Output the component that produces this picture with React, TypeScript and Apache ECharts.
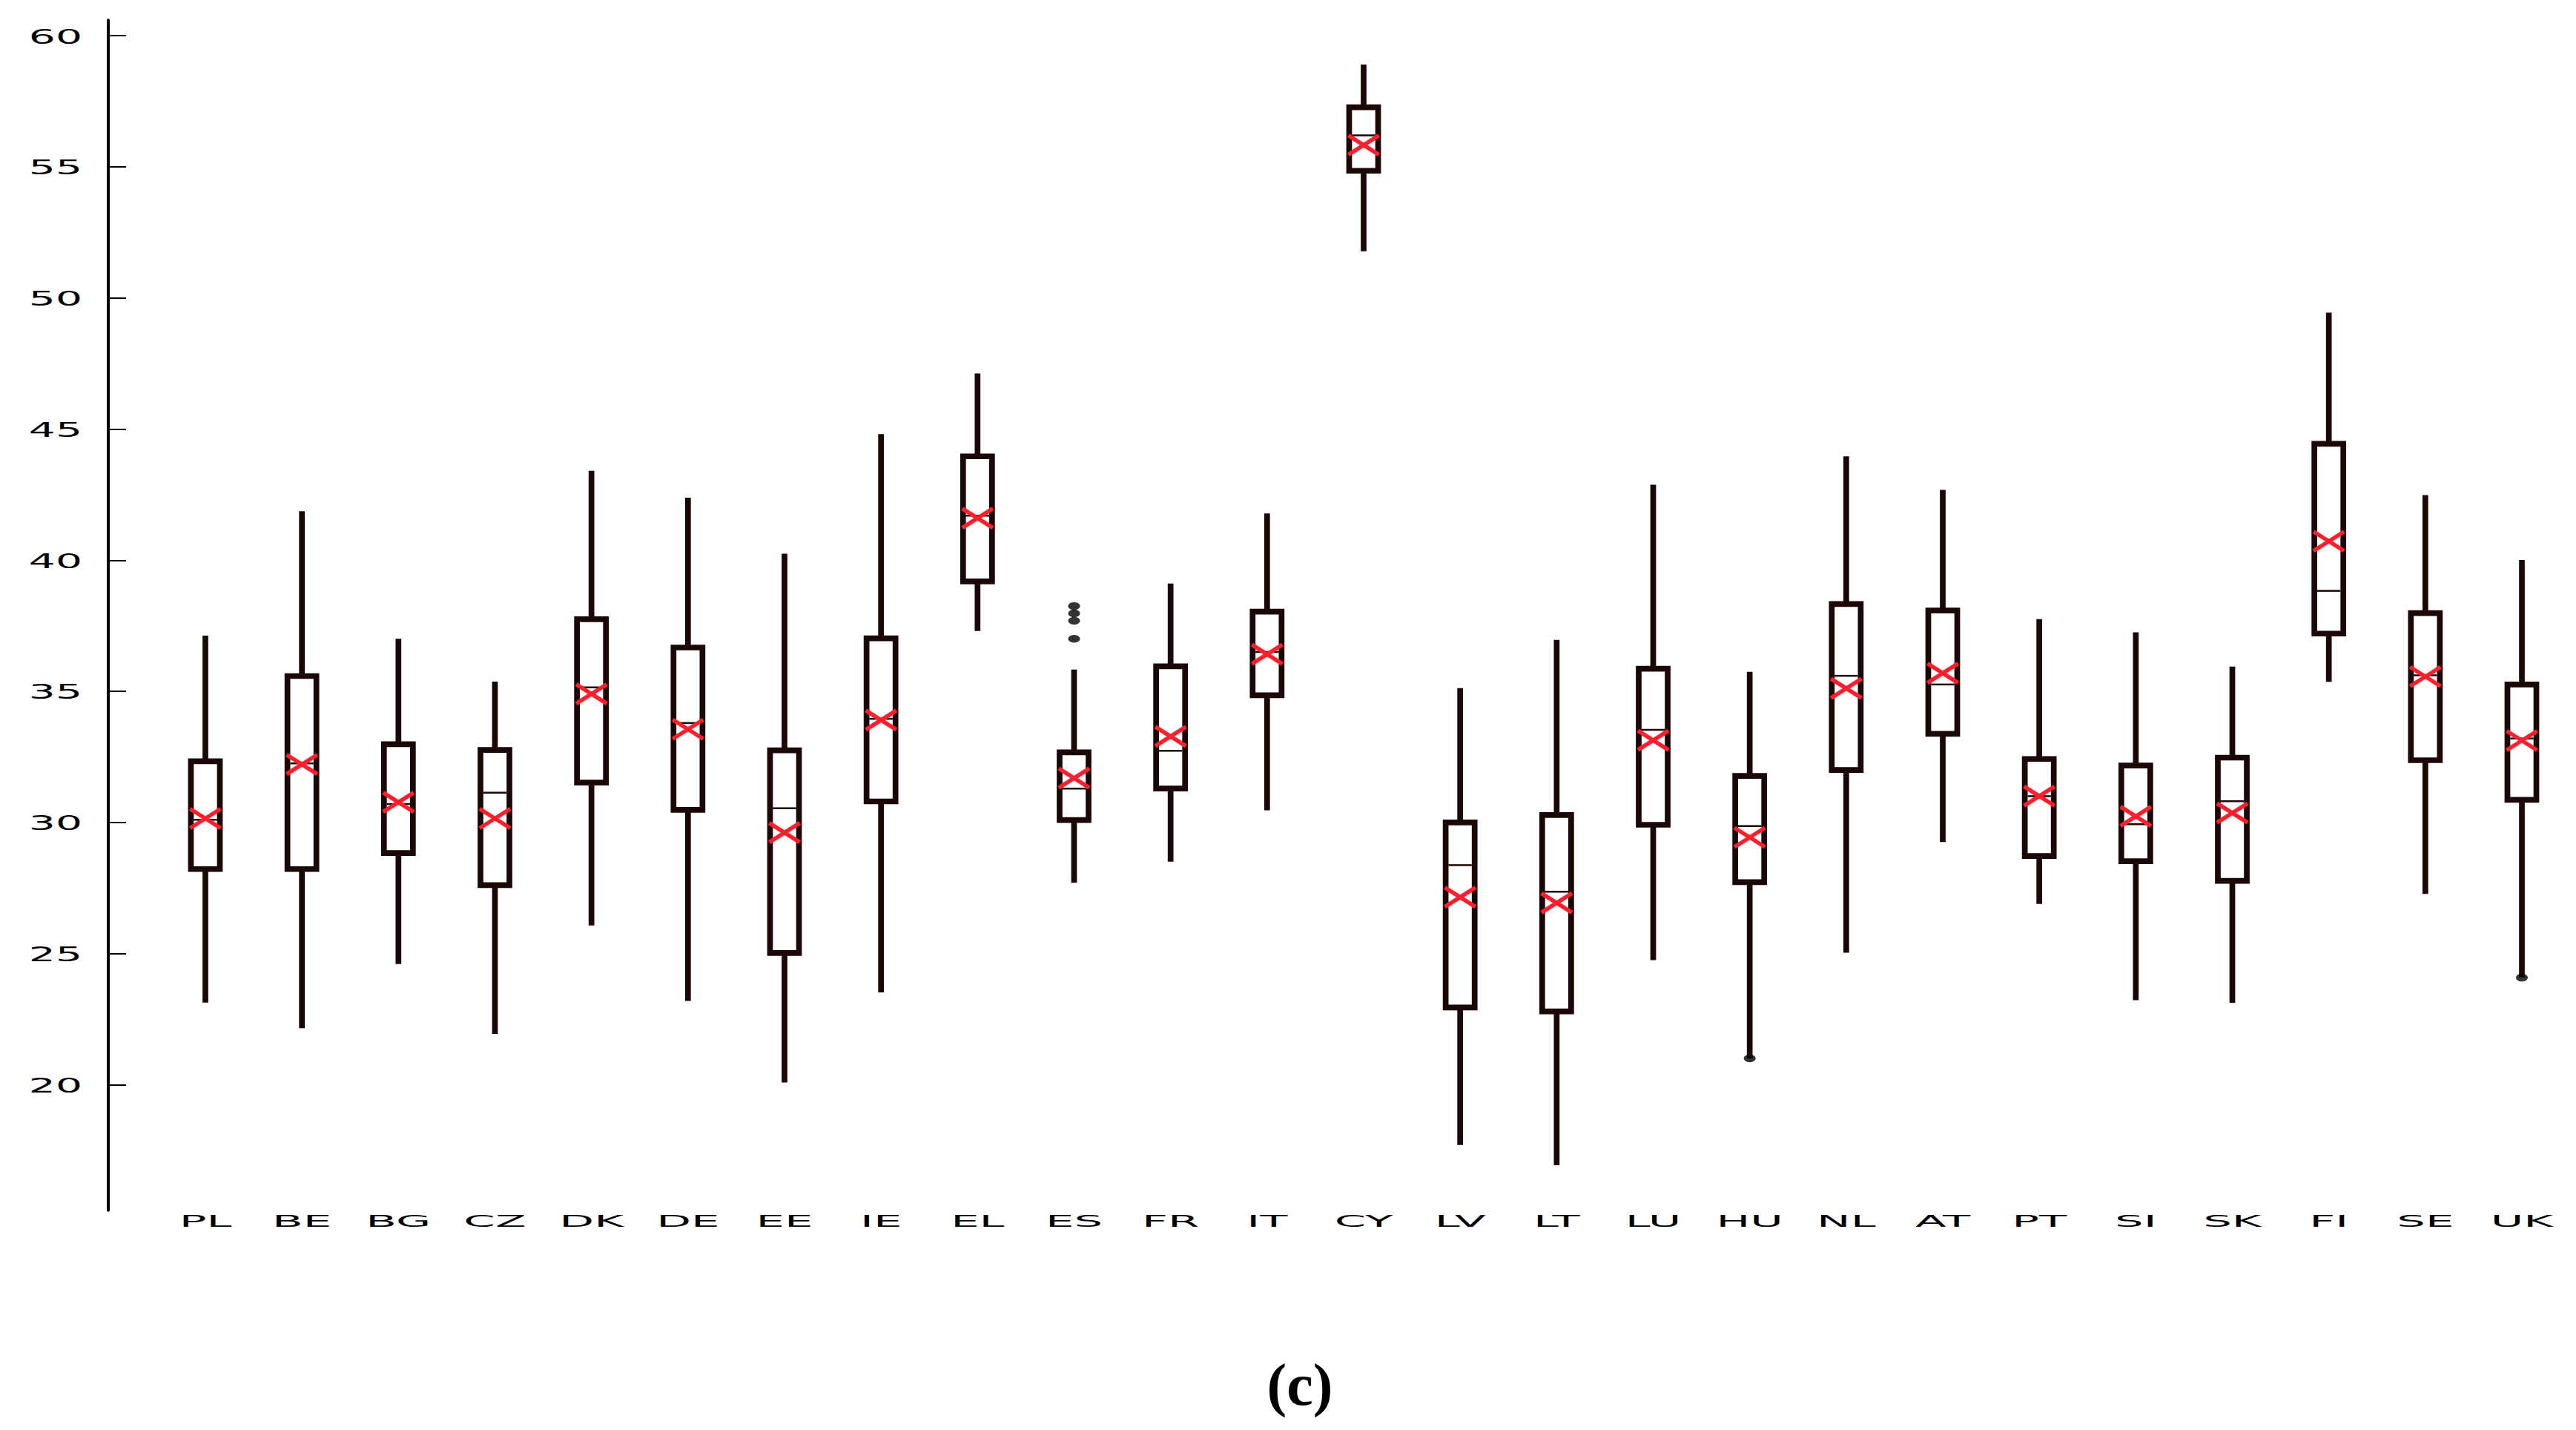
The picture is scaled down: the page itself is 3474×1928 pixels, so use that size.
import React, { useEffect, useRef } from "react";
import * as echarts from "echarts";

const categories = ["PL","BE","BG","CZ","DK","DE","EE","IE","EL","ES","FR","IT","CY","LV","LT","LU","HU","NL","AT","PT","SI","SK","FI","SE","UK"];
const lowWhisker = [23.13,22.15,24.6,21.93,26.07,23.19,20.08,23.52,37.3,27.7,28.5,30.46,51.78,17.7,16.93,24.75,21.0,25.03,29.25,26.89,23.22,23.12,35.36,27.27,24.1];
const q1Values = [28.22,28.22,28.83,27.61,31.52,30.48,25.02,30.8,39.19,30.09,31.29,34.85,54.85,22.94,22.79,29.91,27.72,32.0,33.38,28.72,28.52,27.77,37.2,32.37,30.86];
const medianValues = [30.1,32.25,30.7,31.13,35.15,33.79,30.54,33.95,41.7,31.29,32.73,36.5,56.2,28.37,27.36,33.53,29.86,35.59,35.26,31.0,29.93,30.81,38.83,35.61,33.2];
const q3Values = [32.33,35.58,32.98,32.76,37.75,36.67,32.75,37.02,43.96,32.67,35.95,38.04,57.27,30.0,30.28,35.86,31.77,38.33,38.08,32.42,32.17,32.47,44.44,37.98,35.26];
const highWhisker = [37.12,41.87,37.0,35.37,43.41,42.38,40.25,44.81,47.12,35.83,39.11,41.78,58.9,35.12,36.96,42.88,35.74,43.96,42.68,37.75,37.25,35.94,49.44,42.48,40.01];
const meanValues = [30.15,32.21,30.77,30.15,34.9,33.55,29.61,33.9,41.6,31.69,33.28,36.41,55.83,27.15,26.93,33.13,29.43,35.11,35.69,31.0,30.23,30.36,40.72,35.56,33.12];
const outlierCats = ["ES","ES","ES","ES","HU","UK"];
const outlierValues = [38.25,37.97,37.69,37.0,21.0,24.08];
const yTickValues = [20,25,30,35,40,45,50,55,60];
const panelLabel = "(c)";

const DARK = "#1c0707";
const RED = "#ff1f2d";

export default function App() {
  const ref = useRef<HTMLDivElement | null>(null);

  useEffect(() => {
    if (!ref.current) return;
    const chart = echarts.init(ref.current, undefined, { renderer: "svg" });
    const boxData = categories.map((c, i) => [i, lowWhisker[i], q1Values[i], medianValues[i], q3Values[i], highWhisker[i], meanValues[i]]);
    const outlierData = outlierCats.map((c, i) => [c, outlierValues[i]]);

    chart.setOption({
      animation: false,
      backgroundColor: "#ffffff",
      grid: { left: 211.9, right: 7.9, top: 27.3, bottom: 296.3, containLabel: false },
      xAxis: {
        type: "category",
        data: categories,
        boundaryGap: true,
        axisLine: { show: false },
        axisTick: { show: false },
        axisLabel: { show: false },
        splitLine: { show: false },
      },
      yAxis: {
        type: "value",
        min: 15.21,
        max: 60.59,
        position: "left",
        offset: 65.9,
        axisLine: { show: true, lineStyle: { color: "#000", width: 4 } },
        axisTick: { show: true, inside: true, length: 24, customValues: yTickValues, lineStyle: { color: "#000", width: 2 } },
        axisLabel: { show: false },
        splitLine: { show: false },
      },
      series: [
        {
          type: "custom",
          data: boxData,
          encode: { x: 0, y: [1, 2, 3, 4, 5, 6] },
          z: 2,
          renderItem: (params: any, api: any) => {
            const x = api.value(0);
            const lo = api.coord([x, api.value(1)]);
            const q1 = api.coord([x, api.value(2)]);
            const md = api.coord([x, api.value(3)]);
            const q3 = api.coord([x, api.value(4)]);
            const hi = api.coord([x, api.value(5)]);
            const mn = api.coord([x, api.value(6)]);
            const band = api.size([1, 0])[0];
            const bw = band * 0.3;
            const cx = lo[0];
            const lw = 7.7;
            const xw = band * 0.158;
            const xh = 13;
            const stroke = { stroke: DARK, lineWidth: lw, lineCap: "butt" };
            return {
              type: "group",
              children: [
                { type: "line", shape: { x1: cx, y1: lo[1], x2: cx, y2: q1[1] }, style: stroke },
                { type: "line", shape: { x1: cx, y1: q3[1], x2: cx, y2: hi[1] }, style: stroke },
                { type: "rect", shape: { x: cx - bw / 2, y: q3[1], width: bw, height: q1[1] - q3[1] }, style: { fill: "#ffffff", stroke: DARK, lineWidth: lw } },
                { type: "line", shape: { x1: cx - bw / 2 + lw / 2, y1: md[1], x2: cx + bw / 2 - lw / 2, y2: md[1] }, style: { stroke: DARK, lineWidth: 2.5 } },
                { type: "line", shape: { x1: cx - xw, y1: mn[1] - xh, x2: cx + xw, y2: mn[1] + xh }, style: { stroke: RED, lineWidth: 5.5 } },
                { type: "line", shape: { x1: cx - xw, y1: mn[1] + xh, x2: cx + xw, y2: mn[1] - xh }, style: { stroke: RED, lineWidth: 5.5 } },
              ],
            };
          },
        },
        {
          type: "scatter",
          data: outlierData,
          symbol: "circle",
          symbolSize: [16, 10.5],
          itemStyle: { color: "#000000" },
          z: 3,
        },
      ],
    });

    const graphics: any[] = [];
    categories.forEach((c) => {
      const px = chart.convertToPixel({ xAxisIndex: 0 }, c) as number;
      graphics.push({
        type: "text",
        x: px,
        y: 1647,
        scaleX: 2.9,
        style: { text: c, align: "center", verticalAlign: "middle", fontFamily: "DejaVu Sans", fontSize: 21, fill: "#000" },
      });
    });
    yTickValues.forEach((v) => {
      const py = chart.convertToPixel({ yAxisIndex: 0 }, v) as number;
      graphics.push({
        type: "text",
        x: 111,
        y: py + 1,
        scaleX: 2.1,
        style: { text: String(v), align: "right", verticalAlign: "middle", fontFamily: "DejaVu Sans", fontSize: 27, fill: "#000" },
      });
    });
    graphics.push({
      type: "text",
      x: 1753,
      y: 1867,
      style: { text: panelLabel, align: "center", verticalAlign: "middle", fontFamily: "Liberation Serif", fontWeight: "bold", fontSize: 80, fill: "#000" },
    });
    chart.setOption({ graphic: graphics });

    return () => chart.dispose();
  }, []);

  return <div ref={ref} style={{ position: "fixed", left: 0, top: 0, width: "3474px", height: "1928px" }} />;
}
